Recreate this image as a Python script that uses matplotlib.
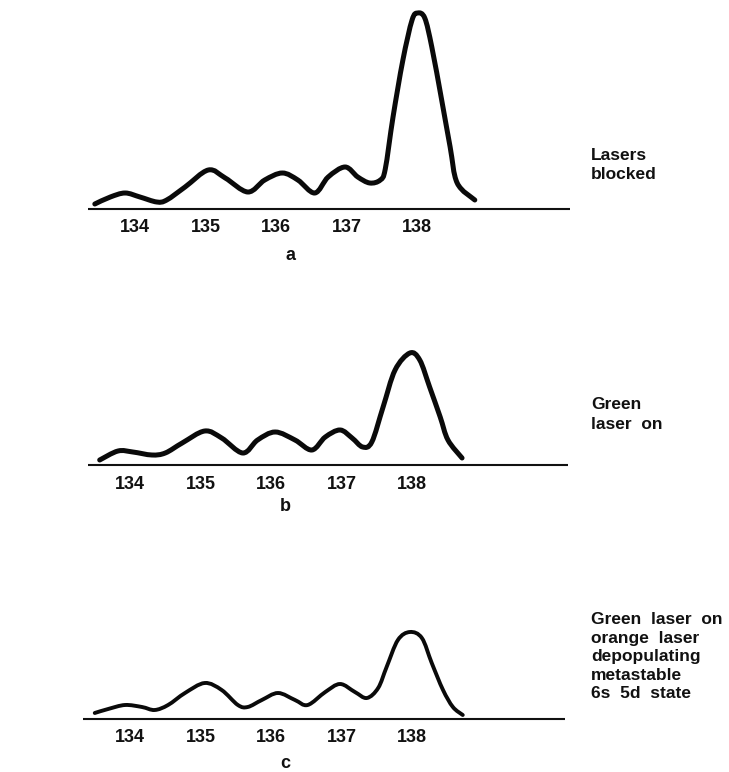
import matplotlib
matplotlib.use("Agg")
import matplotlib.pyplot as plt
from matplotlib.path import Path
from matplotlib.patches import PathPatch

plt.rcParams['font.family'] = ['Liberation Sans', 'DejaVu Sans']

# Mass numbers shown under each trace
mass_ticks = [134, 135, 136, 137, 138]

# Trace a: lasers blocked (mass number, signal in arbitrary units)
mass_a = [133.43, 133.65, 133.86, 134.07, 134.31, 134.45, 134.71, 135.04, 135.28,
          135.60, 135.84, 136.09, 136.31, 136.55, 136.74, 136.98, 137.16, 137.33,
          137.48, 137.55, 137.66, 137.80, 137.93, 138.01, 138.11, 138.21, 138.35,
          138.47, 138.57, 138.82]
signal_a = [5, 12, 16, 12, 7, 9, 22, 39, 31,
            17, 29, 36, 29, 16, 32, 42, 32, 26,
            29, 40, 92, 149, 189, 196, 191, 162, 109,
            62, 26, 9]

# Trace b: green laser on
mass_b = [133.57, 133.83, 134.04, 134.31, 134.50, 134.74, 135.06, 135.30, 135.60,
          135.81, 136.06, 136.34, 136.58, 136.77, 136.98, 137.15, 137.30, 137.43,
          137.59, 137.76, 137.97, 138.11, 138.25, 138.40, 138.51, 138.71]
signal_b = [5, 14, 13, 10, 12, 22, 34, 27, 12,
            25, 33, 25, 15, 28, 35, 27, 18, 23,
            58, 95, 112, 105, 78, 48, 25, 7]

# Trace c: green laser on, orange laser depopulating the metastable 6s 5d state
mass_c = [133.50, 133.69, 133.93, 134.17, 134.35, 134.54, 134.78, 135.06, 135.30,
          135.53, 135.67, 135.87, 136.10, 136.34, 136.52, 136.77, 136.98, 137.19,
          137.36, 137.52, 137.64, 137.80, 137.97, 138.14, 138.28, 138.44, 138.58,
          138.72]
signal_c = [6, 10, 14, 12, 9, 14, 26, 36, 29,
            14, 12, 19, 26, 19, 14, 27, 35, 27,
            21, 31, 52, 79, 87, 81, 56, 29, 12,
            4]

panel_letters = ['a', 'b', 'c']
panel_notes = [
    ["Lasers", "blocked"],
    ["Green", "laser  on"],
    ["Green  laser  on", "orange  laser", "depopulating", "metastable", "6s  5d  state"],
]


def smooth_path(xs, ys):
    """Catmull-Rom spline through the points, as cubic Bezier segments."""
    pts = list(zip(xs, ys))
    n = len(pts)
    verts = [pts[0]]
    codes = [Path.MOVETO]
    for i in range(n - 1):
        p0 = pts[i - 1] if i > 0 else pts[i]
        p1 = pts[i]
        p2 = pts[i + 1]
        p3 = pts[i + 2] if i + 2 < n else pts[i + 1]
        c1 = (p1[0] + (p2[0] - p0[0]) / 6, p1[1] + (p2[1] - p0[1]) / 6)
        c2 = (p2[0] - (p3[0] - p1[0]) / 6, p2[1] - (p3[1] - p1[1]) / 6)
        verts += [c1, c2, p2]
        codes += [Path.CURVE4] * 3
    return Path(verts, codes)


W, H = 729, 772
fig = plt.figure(figsize=(W / 100, H / 100), dpi=100)
fig.patch.set_facecolor('white')

PX_PER_MASS = 70.5

panels = [
    dict(top=0, bottom=272, base=209, ref=135, line=(133.33, 140.17), lw=3.6,
         mass=mass_a, sig=signal_a, tick_dy=18, letter_dy=46, note_y=155, gap=19.5),
    dict(top=300, bottom=522, base=465, ref=130, line=(133.40, 140.21), lw=3.6,
         mass=mass_b, sig=signal_b, tick_dy=20, letter_dy=42, note_y=405, gap=19.5),
    dict(top=560, bottom=772, base=719, ref=130, line=(133.33, 140.17), lw=2.8,
         mass=mass_c, sig=signal_c, tick_dy=18, letter_dy=44, note_y=620, gap=18.5),
]

for i, p in enumerate(panels):
    ax = fig.add_axes([0, 1 - p['bottom'] / H, 1, (p['bottom'] - p['top']) / H])
    x0 = 134 - p['ref'] / PX_PER_MASS
    x1 = 134 + (W - p['ref']) / PX_PER_MASS
    ax.set_xlim(x0, x1)
    ax.set_ylim(-(p['bottom'] - p['base']), p['base'] - p['top'])
    ax.axis('off')

    # baseline
    ax.plot(p['line'], [0, 0], color='#111111', lw=1.5, solid_capstyle='butt')

    # ion-signal trace
    ax.add_patch(PathPatch(smooth_path(p['mass'], p['sig']), fill=False,
                           edgecolor='#0a0a0a', lw=p['lw'],
                           joinstyle='round', capstyle='round'))

    for m in mass_ticks:
        ax.text(m, -p['tick_dy'], str(m), ha='center', va='center',
                fontsize=13, fontweight='bold', color='#111111')
    ax.text(136.2, -p['letter_dy'], panel_letters[i], ha='center', va='center',
            fontsize=13, fontweight='bold', color='#111111')

    note_x = 134 + (591 - p['ref']) / PX_PER_MASS
    note_top = p['base'] - p['note_y']
    for j, line in enumerate(panel_notes[i]):
        ax.text(note_x, note_top - j * p['gap'], line,
                ha='left', va='center', fontsize=12.5, fontweight='bold',
                color='#111111')

fig.savefig('out.png', dpi=100, facecolor='white')
